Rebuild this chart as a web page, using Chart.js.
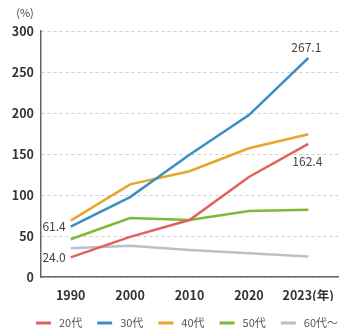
<!DOCTYPE html>
<html lang="ja">
<head>
<meta charset="utf-8">
<script src="https://cdn.jsdelivr.net/npm/chart.js@4/dist/chart.umd.min.js"></script>
<style>
  html, body { margin: 0; padding: 0; background: #fff; }
  #wrap { width: 351px; height: 331px; }
</style>
</head>
<body>
<div id="wrap"><canvas id="c" width="351" height="331"></canvas></div>
<script>
// Years on the horizontal axis
const years = ['1990', '2000', '2010', '2020', '2023(年)'];

// Rates by age group (%)
const age20s = [24.0, 49, 69.5, 122, 162.4];
const age30s = [61.4, 97.5, 149, 197.5, 267.1];
const age40s = [68.7, 113, 129, 157, 174];
const age50s = [46, 72, 69.5, 80.5, 82];
const age60plus = [35, 38, 33, 29, 25];

const seriesNames = ['20代', '30代', '40代', '50代', '60代〜'];
const yTicks = [0, 50, 100, 150, 200, 250, 300];

const colors = ['#e0625c', '#3b8fc5', '#e8a52b', '#7dba35', '#b8c1c9'];
const FONT = '"Noto Sans CJK JP", "Noto Sans", sans-serif';

// Values printed next to the first and last points of two lines
const valueLabels = [
  { ds: 1, i: 0, dx: -5, dy: 0, align: 'right' },
  { ds: 0, i: 0, dx: -5, dy: 0, align: 'right' },
  { ds: 1, i: 4, dx: -2, dy: -11, align: 'center' },
  { ds: 0, i: 4, dx: -1, dy: 18, align: 'center' }
];

const labelPlugin = {
  id: 'valueLabels',
  afterDatasetsDraw(chart) {
    const ctx = chart.ctx;
    ctx.save();
    ctx.font = '12px ' + FONT;
    ctx.fillStyle = '#444';
    ctx.textBaseline = 'middle';
    valueLabels.forEach(l => {
      const pt = chart.getDatasetMeta(l.ds).data[l.i];
      const v = chart.data.datasets[l.ds].data[l.i];
      ctx.textAlign = l.align;
      ctx.fillText(v.toFixed(1), pt.x + l.dx, pt.y + l.dy);
    });
    // unit above the vertical axis
    ctx.font = '11px ' + FONT;
    ctx.textAlign = 'center';
    ctx.fillText('(%)', 25, 13);
    ctx.restore();
  }
};

// One-row legend under the axis, ending at the right edge of the plot area
const rowLegend = {
  id: 'rowLegend',
  afterDraw(chart) {
    const ctx = chart.ctx;
    const sets = chart.data.datasets;
    const swatch = 15, textGap = 8, itemGap = 15;
    ctx.save();
    ctx.font = '11px ' + FONT;
    ctx.textBaseline = 'middle';
    ctx.textAlign = 'left';
    const widths = sets.map(ds => swatch + textGap + ctx.measureText(ds.label).width);
    const total = widths.reduce((a, b) => a + b, 0) + itemGap * (sets.length - 1);
    let x = chart.chartArea.right - total;
    const y = chart.height - 8;
    sets.forEach((ds, k) => {
      ctx.fillStyle = ds.borderColor;
      ctx.fillRect(x, y - 1.5, swatch, 3);
      ctx.fillStyle = '#555';
      ctx.fillText(ds.label, x + swatch + textGap, y);
      x += widths[k] + itemGap;
    });
    ctx.restore();
  }
};

const seriesData = [age20s, age30s, age40s, age50s, age60plus];

new Chart(document.getElementById('c'), {
  type: 'line',
  data: {
    labels: years,
    datasets: seriesData.map((d, k) => ({
      label: seriesNames[k],
      data: d,
      borderColor: colors[k],
      backgroundColor: colors[k],
      borderWidth: 2.5,
      pointRadius: 0,
      tension: 0
    }))
  },
  options: {
    responsive: false,
    animation: false,
    layout: { padding: { left: 2, right: 13, top: 31, bottom: 30 } },
    plugins: {
      tooltip: { enabled: false },
      legend: { display: false }
    },
    scales: {
      x: {
        offset: true,
        grid: { display: false, drawTicks: false },
        border: { display: true, color: '#666', width: 1.5 },
        afterFit(scale) { scale.height = 24; },
        ticks: {
          padding: 11,
          maxRotation: 0,
          minRotation: 0,
          autoSkip: false,
          color: '#333',
          font: { family: FONT, size: 12.5, weight: 'bold' }
        }
      },
      y: {
        min: 0,
        max: 300,
        afterFit(scale) { scale.width = 39; },
        afterBuildTicks(scale) { scale.ticks = yTicks.map(v => ({ value: v })); },
        grid: { color: '#cfcfcf', lineWidth: 1, drawTicks: false },
        border: { display: true, color: '#666', width: 1.5, dash: [3, 3] },
        ticks: {
          padding: 7,
          color: '#333',
          font: { family: FONT, size: 12.5, weight: 'bold' }
        }
      }
    }
  },
  plugins: [labelPlugin, rowLegend]
});
</script>
</body>
</html>
